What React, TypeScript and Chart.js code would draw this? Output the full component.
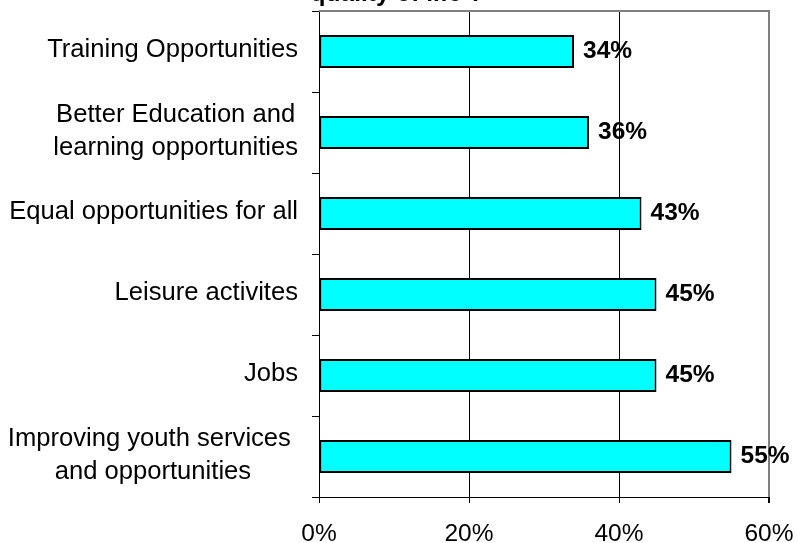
import React, { useEffect, useRef } from "react";
import { Chart, registerables } from "chart.js";

Chart.register(...registerables);

const titleText = "quality of life ?";
const categories: string[][] = [
  ["Training Opportunities"],
  ["Better Education and", "learning opportunities"],
  ["Equal opportunities for all"],
  ["Leisure activites"],
  ["Jobs"],
  ["Improving youth services ", "and opportunities"],
];
const values: number[] = [34, 36, 43, 45, 45, 55];
const valueLabels: string[] = ["34%", "36%", "43%", "45%", "45%", "55%"];
const xTicks: number[] = [0, 20, 40, 60];

const FONT = "'Liberation Sans', Arial, sans-serif";

export default function App() {
  const ref = useRef<HTMLCanvasElement | null>(null);

  useEffect(() => {
    if (!ref.current) return;

    const customPlugin = {
      id: "custom",
      afterDraw(chart: any) {
        const ctx = chart.ctx;
        const area = chart.chartArea;
        const yScale = chart.scales.y;
        const xScale = chart.scales.x;
        ctx.save();
        // top and right gray border
        ctx.strokeStyle = "#808080";
        ctx.lineWidth = 2;
        ctx.beginPath();
        ctx.moveTo(area.left, area.top);
        ctx.lineTo(area.right, area.top);
        ctx.lineTo(area.right, area.bottom);
        ctx.stroke();

        // title
        ctx.fillStyle = "#000";
        ctx.font = `bold 24.5px ${FONT}`;
        ctx.textAlign = "center";
        ctx.textBaseline = "alphabetic";
        ctx.fillText(titleText, 397, 1);

        // category labels
        ctx.font = `25.6px ${FONT}`;
        const rightEdge = area.left - 21;
        categories.forEach((lines, i) => {
          const cy = yScale.getPixelForValue(i);
          const widths = lines.map((l) => ctx.measureText(l).width);
          const maxW = Math.max(...widths);
          const center = rightEdge - maxW / 2;
          lines.forEach((line, j) => {
            const by = cy + 5.5 + (j - (lines.length - 1) / 2) * 33;
            ctx.textAlign = "center";
            ctx.fillText(line, center, by);
          });
        });

        // value labels
        ctx.font = `bold 24.5px ${FONT}`;
        ctx.textAlign = "left";
        values.forEach((v, i) => {
          const x = xScale.getPixelForValue(v) + 9;
          const y = yScale.getPixelForValue(i) + 6;
          ctx.fillText(valueLabels[i], x, y);
        });
        ctx.restore();
      },
    };

    const chart = new Chart(ref.current, {
      type: "bar",
      data: {
        labels: categories.map((c) => c.join(" ")),
        datasets: [
          {
            data: values,
            backgroundColor: "#00FFFF",
            borderColor: "#000000",
            borderWidth: 2,
            borderSkipped: false,
            barPercentage: 0.405,
            categoryPercentage: 1,
          },
        ],
      },
      options: {
        indexAxis: "y",
        animation: false,
        responsive: true,
        maintainAspectRatio: false,
        layout: { padding: { top: 11, right: 28, left: 0, bottom: 0 } },
        plugins: {
          legend: { display: false },
          title: { display: false },
          tooltip: { enabled: false },
        },
        scales: {
          x: {
            type: "linear",
            min: 0,
            max: 60,
            afterBuildTicks: (scale: any) => {
              scale.ticks = xTicks.map((v) => ({ value: v }));
            },
            afterFit: (scale: any) => {
              scale.height = 46;
              scale.paddingLeft = 0;
              scale.paddingRight = 0;
            },
            ticks: {
              callback: (v: any) => `${v}%`,
              color: "#000",
              font: { family: FONT, size: 24.5 },
              padding: 17,
              maxRotation: 0,
            },
            grid: {
              color: (ctx: any) => (ctx.tick && ctx.tick.value === 60 ? "#808080" : "#000"),
              lineWidth: (ctx: any) => (ctx.tick && ctx.tick.value === 60 ? 2 : 1),
              tickColor: "#000",
              tickLength: 6,
              drawTicks: true,
            },
            border: { display: true, color: "#000", width: 1 },
          },
          y: {
            type: "category",
            afterFit: (scale: any) => {
              scale.width = 319;
              scale.paddingTop = 0;
              scale.paddingBottom = 0;
            },
            ticks: { display: false },
            grid: {
              offset: true,
              drawOnChartArea: false,
              drawTicks: true,
              tickLength: 7,
              color: "#000",
              tickColor: "#000",
            },
            border: { display: true, color: "#000", width: 1 },
          },
        },
      },
      plugins: [customPlugin],
    });

    return () => chart.destroy();
  }, []);

  return (
    <div style={{ position: "fixed", left: 0, top: 0, width: 797, height: 543, background: "#fff" }}>
      <canvas ref={ref} />
    </div>
  );
}
